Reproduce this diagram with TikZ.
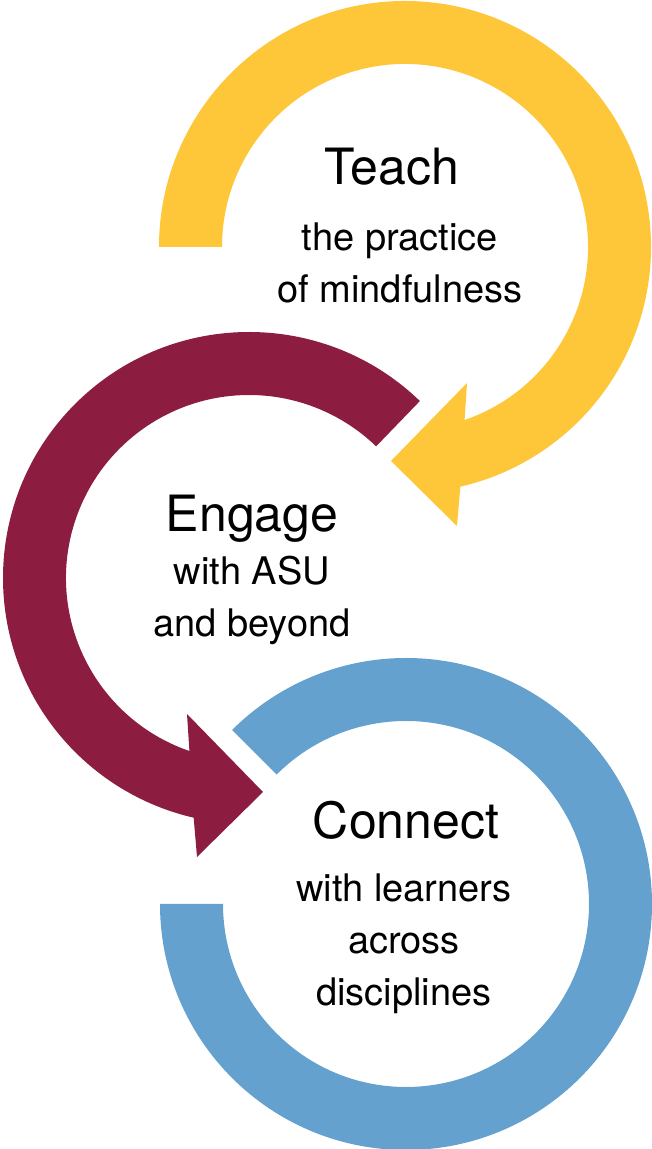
\documentclass[tikz,border=0pt]{standalone}
\usepackage{fontspec}
\setmainfont{TeX Gyre Heros}
\usetikzlibrary{calc}
\definecolor{asugold}{RGB}{253,199,57}
\definecolor{asumaroon}{RGB}{140,29,64}
\definecolor{asublue}{RGB}{101,161,206}
\begin{document}
\begin{tikzpicture}[x=1pt, y=1pt, line join=round,
	title/.style={anchor=base, font=\fontsize{50}{60}\selectfont},
	sub/.style={anchor=base, align=center, font=\fontsize{38}{52}\selectfont}]
				\def\R{246}
				\def\r{183}
				\useasboundingbox (0,0) rectangle (652,1149);
				\path
				(405,902) coordinate (T)
				(249,571) coordinate (E)
				(406,245) coordinate (C)
				;
				% teach ring, arrow tip to the lower left
				\fill[asugold]
				($(T)+(180:\R)$) arc (180:-77:\R)
				-- ($(T)+(52,-279)$) -- ($(T)+(-14,-214)$) -- ($(T)+(62,-136)$)
				-- ($(T)+(-71:\r)$) arc (-71:180:\r) -- cycle
				;
				% engage ring, arrow tip to the right
				\fill[asumaroon]
				($(E)+(46:\R)$) arc (46:257:\R)
				-- ($(E)+(-52,-279)$) -- ($(E)+(14,-214)$) -- ($(E)+(-62,-136)$)
				-- ($(E)+(251:\r)$) arc (251:46:\r) -- cycle
				;
				% connect ring, no tip
				\fill[asublue]
				($(C)+(180:\R)$) arc (180:495:\R)
				-- ($(C)+(135:\r)$) arc (495:180:\r) -- cycle
				;
				% base of a sub node sits on its last line
				\node[title] (teach) at (392,964) {Teach};
				\node[sub] (teachsub) at (400,846) {the practice\\of mindfulness};
				\node[title] (engage) at (252,617) {Engage};
				\node[sub] (engagesub) at (252,512) {with ASU\\and beyond};
				\node[title] (connect) at (406,310) {Connect};
				\node[sub] (connectsub) at (404,143) {with learners\\across\\disciplines};
			\end{tikzpicture}
\end{document}
